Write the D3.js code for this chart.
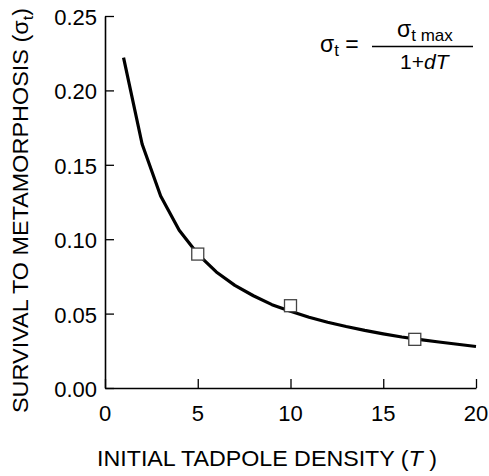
<!DOCTYPE html>
<html>
<head>
<meta charset="utf-8">
<script src="https://cdn.jsdelivr.net/npm/d3@7"></script>
<style>
  body { margin: 0; background: #fff; }
  svg text { font-family: "Liberation Sans", Arial, Helvetica, sans-serif; fill: #000; }
</style>
</head>
<body>
<svg id="chart" width="489" height="476"></svg>
<script>
// curve, one value per tadpole density
var densities = [1, 2, 3, 4, 5, 6, 7, 8, 9, 10, 11, 12, 13, 14, 15, 16, 17, 18, 19, 20];
var survival = [0.222, 0.164, 0.129, 0.106, 0.090, 0.078, 0.069, 0.062, 0.056, 0.0516,
                0.0476, 0.0442, 0.0413, 0.0387, 0.0364, 0.0343, 0.0325, 0.0309, 0.0294, 0.0279];

// observed points (open squares)
var obsDensity = [5, 10, 16.7];
var obsSurvival = [0.090, 0.0553, 0.0327];

var xTicks = [0, 5, 10, 15, 20];
var yTicks = [0, 0.05, 0.10, 0.15, 0.20, 0.25];

var svg = d3.select("#chart");

var x = d3.scaleLinear().domain([0, 20]).range([105, 476]);
var y = d3.scaleLinear().domain([0, 0.25]).range([388, 16]);

// axes, ticks pointing inward
var xAxis = svg.append("g")
  .attr("transform", "translate(0," + y(0) + ")")
  .call(d3.axisTop(x).tickValues(xTicks).tickSize(9).tickSizeOuter(0).tickFormat(""));

var yAxis = svg.append("g")
  .attr("transform", "translate(" + x(0) + ",0)")
  .call(d3.axisRight(y).tickValues(yTicks).tickSize(9).tickSizeOuter(0).tickFormat(""));

[xAxis, yAxis].forEach(function(g) {
  g.select(".domain").attr("stroke", "#000").attr("stroke-width", 1.6);
  g.selectAll(".tick line").attr("stroke", "#000").attr("stroke-width", 1.3);
});

// tick labels
svg.selectAll(".xlab")
  .data(xTicks)
  .enter().append("text")
  .attr("x", function(d) { return x(d); })
  .attr("y", 421)
  .attr("text-anchor", "middle")
  .style("font-size", "22px")
  .text(function(d) { return d; });

svg.selectAll(".ylab")
  .data(yTicks)
  .enter().append("text")
  .attr("x", 97)
  .attr("y", function(d) { return y(d) + 9; })
  .attr("text-anchor", "end")
  .style("font-size", "22px")
  .text(function(d) { return d3.format(".2f")(d); });

// fitted curve
var line = d3.line()
  .x(function(d, i) { return x(densities[i]); })
  .y(function(d) { return y(d); });

svg.append("path")
  .datum(survival)
  .attr("d", line)
  .attr("fill", "none")
  .attr("stroke", "#000")
  .attr("stroke-width", 3.2)
  .attr("stroke-linejoin", "round");

// squares
svg.selectAll(".obs")
  .data(obsDensity)
  .enter().append("rect")
  .attr("x", function(d) { return x(d) - 6; })
  .attr("y", function(d, i) { return y(obsSurvival[i]) - 6; })
  .attr("width", 12)
  .attr("height", 12)
  .attr("fill", "#fff")
  .attr("stroke", "#444")
  .attr("stroke-width", 1.3);

// axis titles
var xt = svg.append("text")
  .attr("x", 97)
  .attr("y", 466)
  .attr("textLength", 340)
  .attr("lengthAdjust", "spacingAndGlyphs")
  .style("font-size", "22px");
xt.append("tspan").text("INITIAL TADPOLE DENSITY (");
xt.append("tspan").style("font-style", "italic").text("T");
xt.append("tspan").text(" )");

var yt = svg.append("text")
  .attr("transform", "translate(28,413) rotate(-90)")
  .attr("textLength", 405)
  .attr("lengthAdjust", "spacingAndGlyphs")
  .style("font-size", "22px");
yt.append("tspan").text("SURVIVAL TO METAMORPHOSIS (σ");
yt.append("tspan").attr("dy", 5).style("font-size", "15px").text("t");
yt.append("tspan").attr("dy", -5).text(")");

// equation
var lhs = svg.append("text")
  .attr("x", 320)
  .attr("y", 52)
  .style("font-size", "23px");
lhs.append("tspan").text("σ");
lhs.append("tspan").attr("dy", 4).style("font-size", "17px").text("t");
lhs.append("tspan").attr("dy", -4).text(" =");

var num = svg.append("text")
  .attr("x", 397)
  .attr("y", 37)
  .style("font-size", "23px");
num.append("tspan").text("σ");
num.append("tspan").attr("dy", 4).style("font-size", "17px").text("t max");

svg.append("line")
  .attr("x1", 372).attr("x2", 473)
  .attr("y1", 46.5).attr("y2", 46.5)
  .attr("stroke", "#000")
  .attr("stroke-width", 1.3);

var den = svg.append("text")
  .attr("x", 400)
  .attr("y", 69)
  .style("font-size", "21px");
den.append("tspan").text("1+");
den.append("tspan").style("font-style", "italic").text("dT");
</script>
</body>
</html>
